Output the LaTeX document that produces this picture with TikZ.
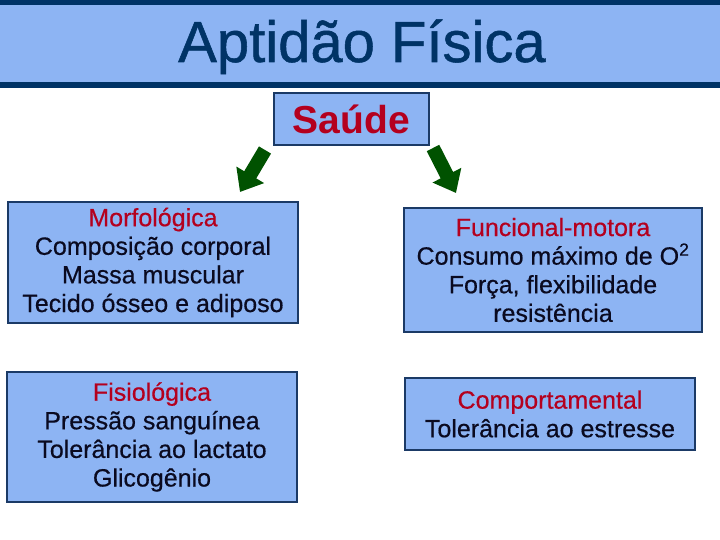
\documentclass[tikz,border=0pt]{standalone}
\usepackage{fontspec}
\setmainfont{Liberation Sans}
\newfontfamily\cheia{Liberation Sans}[FakeBold=0.9]
\newfontfamily\media{Liberation Sans}[FakeBold=0.5]
\usetikzlibrary{positioning, calc, arrows.meta}
\definecolor{Navy}{HTML}{003366}
\definecolor{Sky}{HTML}{8DB4F3}
\definecolor{Frame}{HTML}{1B3A66}
\definecolor{Rubro}{HTML}{B4001E}
\definecolor{Ink}{HTML}{0A0A20}
\definecolor{Folha}{HTML}{005200}
\tikzset{
    topico/.style={rectangle, draw=Frame, line width=1.6pt, fill=Sky, text=Ink, align=center,
        inner sep=0pt, font=\media\fontsize{25}{28.6}\selectfont},
    rotulo/.style={text=Rubro},
    seta/.style={-{Triangle[width=31pt,length=20pt]}, line width=14pt, color=Folha},
}
\begin{document}
\begin{tikzpicture}[x=1pt, y=-1pt]
    \useasboundingbox (0,0) rectangle (720,540);
    \fill[white] (0,0) rectangle (720,540);
    % Faixa do titulo
    \fill[Sky] (0,5) rectangle (720,83);
    \fill[Navy] (0,0) rectangle (720,5);
    \fill[Navy] (0,82.5) rectangle (720,88.5);
    \node[anchor=base, text=Navy, font=\cheia\fontsize{58}{60}\selectfont] (titulo) at (362,62) {Aptidão Física};

    % Caixa central
    \node[topico, minimum width=155pt, minimum height=52pt, font=\bfseries\fontsize{39}{40}\selectfont, text=Rubro] (saude) at (351.5,119) {Saúde};

    % Quatro componentes
    \node[topico, minimum width=290pt, minimum height=121pt] (morfo) at (153,262.5)
        {\textcolor{Rubro}{Morfológica}\\Composição corporal\\Massa muscular\\Tecido ósseo e adiposo};
    \node[topico, minimum width=298pt, minimum height=124pt] (funcional) at (553,270)
        {\textcolor{Rubro}{Funcional-motora}\\Consumo máximo de O\textsuperscript{2}\\Força, flexibilidade\\resistência};
    \node[topico, minimum width=290pt, minimum height=130pt] (fisio) at (152,437)
        {\textcolor{Rubro}{Fisiológica}\\Pressão sanguínea\\Tolerância ao lactato\\Glicogênio};
    \node[topico, minimum width=290pt, minimum height=72pt] (comporta) at (550,414)
        {\textcolor{Rubro}{Comportamental}\\Tolerância ao estresse};

    % Setas verdes
    \coordinate (e0) at (265,150);
    \coordinate (e1) at (240,192);
    \coordinate (d0) at (433,148);
    \coordinate (d1) at (456,193);
    \draw[seta] (e0) -- (e1);
    \draw[seta] (d0) -- (d1);
\end{tikzpicture}
\end{document}
